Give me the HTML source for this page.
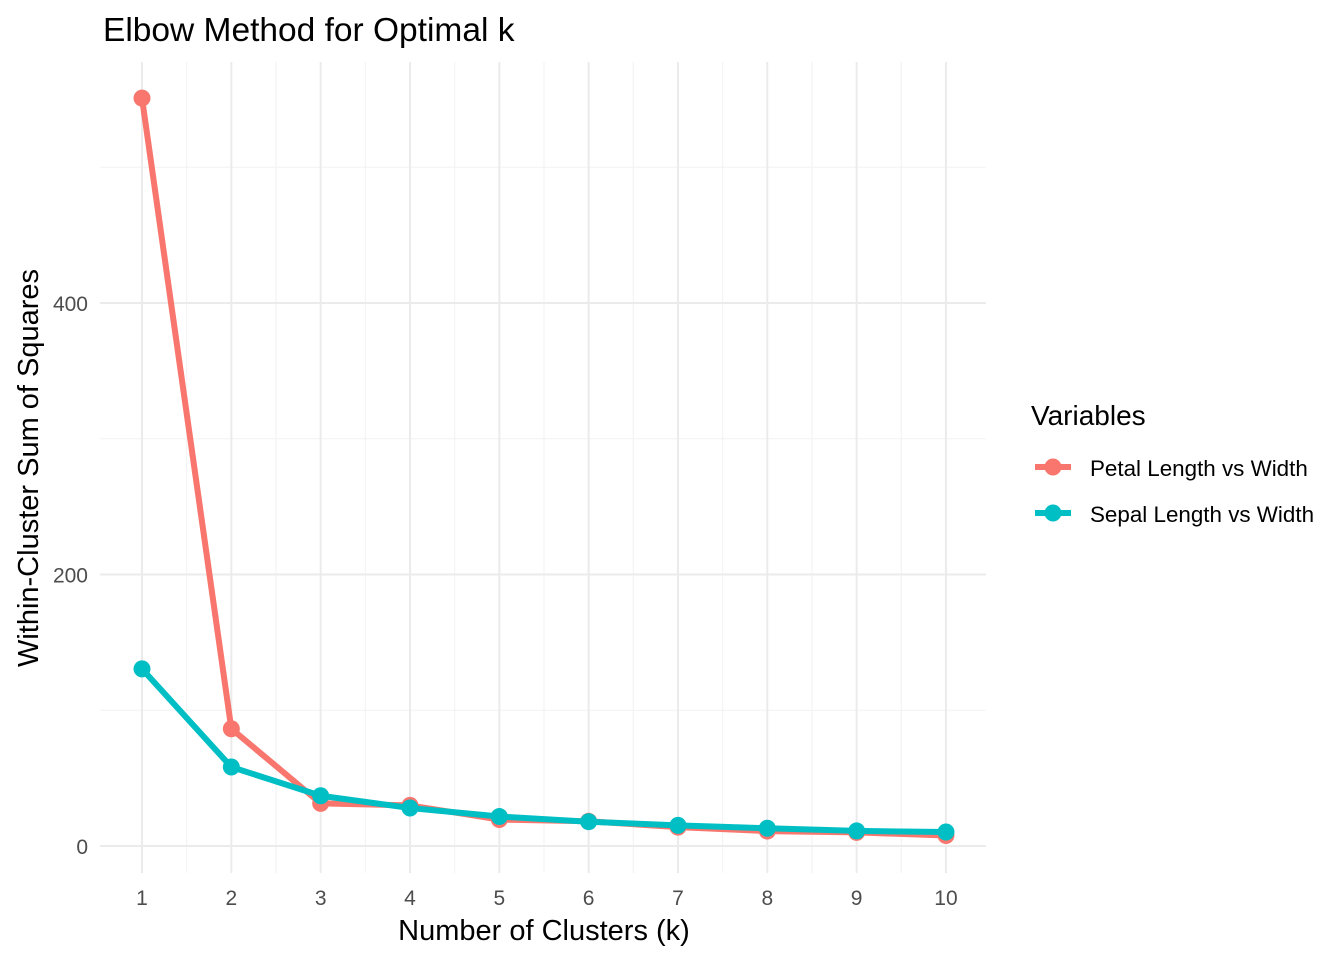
<!DOCTYPE html>
<html><head><meta charset="utf-8"><style>
body{margin:0;background:#fff;font-family:"Liberation Sans",Arial,sans-serif}
svg text{font-family:"Liberation Sans",Arial,sans-serif}
</style></head><body>
<svg id="c" width="1344" height="960" xmlns="http://www.w3.org/2000/svg">
<text x="103" y="41" font-size="33.5" fill="#000">Elbow Method for Optimal k</text>
<g id="grid"></g>
<g id="series"></g>
<text x="544" y="940" font-size="29" text-anchor="middle" fill="#000">Number of Clusters (k)</text>
<text transform="translate(38,468) rotate(-90)" font-size="29" text-anchor="middle" fill="#000">Within-Cluster Sum of Squares</text>
<g>
<text x="1031" y="425" font-size="28" fill="#000">Variables</text>
<g>
<line x1="1035" y1="467" x2="1071" y2="467" stroke="#F8766D" stroke-width="6"/><circle cx="1053" cy="467" r="8.5" fill="#F8766D"/>
<text x="1090" y="476" font-size="22.4" fill="#000">Petal Length vs Width</text></g>
<g>
<line x1="1035" y1="513" x2="1071" y2="513" stroke="#00BFC4" stroke-width="6"/><circle cx="1053" cy="513" r="8.5" fill="#00BFC4"/>
<text x="1090" y="522" font-size="22.4" fill="#000">Sepal Length vs Width</text></g>
</g>
</svg>
<script>
const ks=[1,2,3,4,5,6,7,8,9,10];
const petal=[550.9,86.4,31.4,29.9,19.5,18.2,13.9,11.0,10.0,7.7];
const sepal=[130.5,58.2,37.0,28.0,21.7,17.9,15.2,13.1,11.1,10.3];
const yTicks=[0,200,400];
const yMinor=[100,300,500];
const NS="http://www.w3.org/2000/svg";
const X=k=>142+(k-1)*89.33;
const Y=v=>846-v*1.3575;
const grid=document.getElementById('grid'),ser=document.getElementById('series'),svg=document.getElementById('c');
function mk(t,a,p){const e=document.createElementNS(NS,t);for(const k in a)e.setAttribute(k,a[k]);p.appendChild(e);return e;}
yMinor.forEach(v=>{const l=mk('line',{x1:100,x2:986,y1:Y(v),y2:Y(v),stroke:'#F2F2F2','stroke-width':1},grid);

});
ks.slice(0,-1).forEach(k=>{const l=mk('line',{x1:X(k+0.5),x2:X(k+0.5),y1:62,y2:873,stroke:'#F2F2F2','stroke-width':1},grid);

});
yTicks.forEach(v=>{const l=mk('line',{x1:100,x2:986,y1:Y(v),y2:Y(v),stroke:'#EBEBEB','stroke-width':2},grid);


const t=mk('text',{x:88,y:Y(v)+8,'font-size':21,'text-anchor':'end',fill:'#4D4D4D'},svg);t.textContent=v;

});
ks.forEach(k=>{const l=mk('line',{x1:X(k),x2:X(k),y1:62,y2:873,stroke:'#EBEBEB','stroke-width':2},grid);


const t=mk('text',{x:X(k),y:905,'font-size':21,'text-anchor':'middle',fill:'#4D4D4D'},svg);t.textContent=k;

});
[[petal,'#F8766D','petal'],[sepal,'#00BFC4','sepal']].forEach(([d,c,n])=>{
const p=mk('polyline',{points:d.map((v,i)=>X(ks[i])+','+Y(v)).join(' '),fill:'none',stroke:c,'stroke-width':6,'stroke-linejoin':'round'},ser);


d.forEach((v,i)=>{const e=mk('circle',{cx:X(ks[i]),cy:Y(v),r:8.5,fill:c},ser);

});});
</script>
</body></html>
